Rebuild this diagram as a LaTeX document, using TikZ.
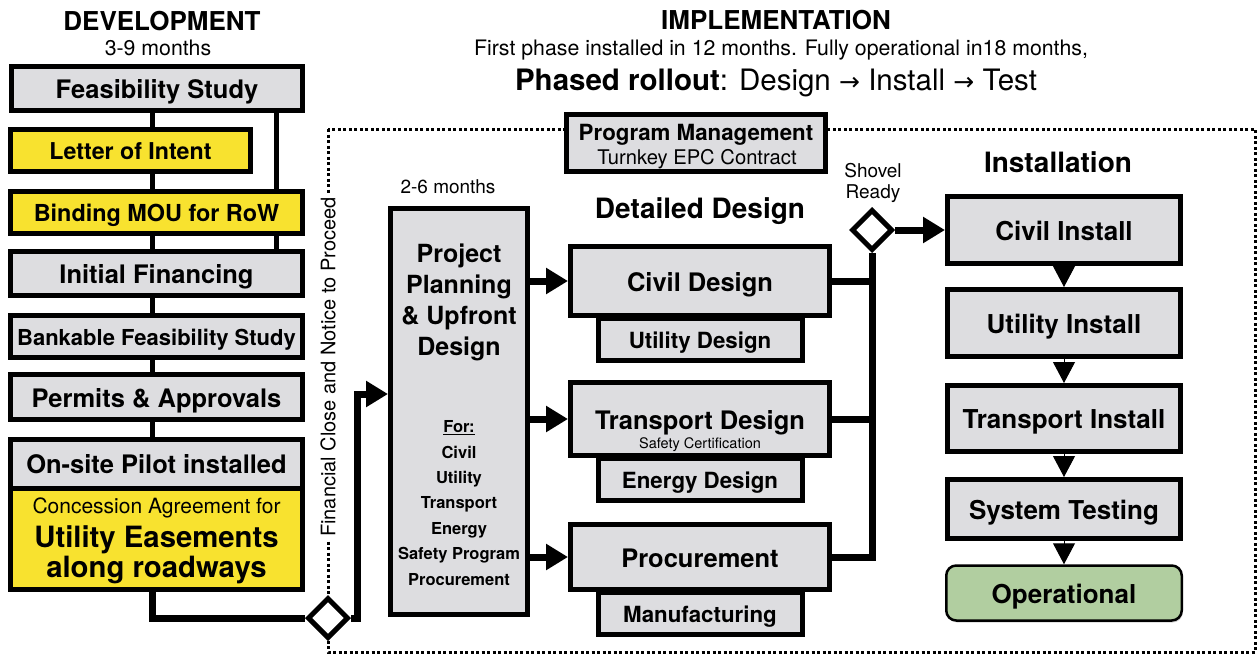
\documentclass[tikz,border=0pt]{standalone}
\usepackage{fontspec}
\setmainfont{TeX Gyre Heros}
\newfontfamily\arrowfont{DejaVu Sans}
\usetikzlibrary{arrows.meta,shapes.geometric,shadows,backgrounds}
\definecolor{boxgray}{RGB}{221,221,224}
\definecolor{boxyellow}{RGB}{248,226,47}
\definecolor{boxgreen}{RGB}{177,206,160}
\newcommand\fsz[2]{\fontsize{#1}{#2}\selectfont}
\tikzset{
  box/.style={draw=black, line width=5pt, fill=boxgray, inner sep=0pt, align=center},
  ybox/.style={box, fill=boxyellow},
  conn/.style={draw=black, line width=7pt},
  arr/.style={conn, -{Triangle[length=22pt,width=25pt]}},
  darr/.style={draw=black, line width=1pt, -{Triangle[length=21pt,width=22pt]}},
  gate/.style={diamond, draw=black, line width=5pt, fill=white, minimum width=41pt, minimum height=41pt, inner sep=0pt},
  frame/.style={draw=black, line width=3pt, dash pattern=on 3pt off 2.5pt},
  lbl/.style={inner sep=0pt, align=center},
  big/.style={font=\fsz{25.5}{30}\bfseries, text height=20.4pt, text depth=0pt},
  mid/.style={font=\fsz{22.3}{26}\bfseries, text height=17.8pt, text depth=0pt},
  inst/.style={box, font=\fsz{26}{30}\bfseries, text height=20.8pt, text depth=0pt, minimum width=233pt},
}
\begin{document}
\begin{tikzpicture}[x=1pt,y=-1pt]
\useasboundingbox (0,0) rectangle (1259,654);

% headers
\node[lbl, font=\fsz{26}{30}\bfseries, anchor=base] (devh) at (162,30.5) {DEVELOPMENT};
\node[lbl, font=\fsz{21.3}{25}, anchor=base] (devt) at (158,55) {3-9 months};
\node[lbl, font=\fsz{26}{30}\bfseries, anchor=base] (imph) at (776,29) {IMPLEMENTATION};
\node[lbl, font=\fsz{21.3}{25}, anchor=base] (impt) at (781,55.5) {First phase installed in 12 months. Fully operational in18 months,};
\node[lbl, font=\fsz{29.5}{33}, anchor=base] (roll) at (776,90) {\textbf{Phased rollout}: Design {\arrowfont\fsz{25}{29}→} Install {\arrowfont\fsz{25}{29}→} Test};

% development column
\node[box, big, minimum width=291pt, minimum height=44pt] (feas) at (157,88.5) {Feasibility Study};
\node[ybox, font=\fsz{23.2}{27}\bfseries, text height=18.6pt, text depth=0pt, minimum width=240pt, minimum height=42pt] (loi) at (130.5,150.5) {Letter of Intent};
\node[ybox, font=\fsz{23.4}{27}\bfseries, text height=18.7pt, text depth=0pt, minimum width=292pt, minimum height=42pt] (mou) at (156.5,212.5) {Binding MOU for RoW};
\node[box, big, minimum width=292pt, minimum height=44pt] (fin) at (156.5,273.5) {Initial Financing};
\node[box, font=\fsz{22}{26}\bfseries, text height=17.6pt, text depth=0pt, minimum width=292pt, minimum height=42pt] (bank) at (156.5,336.5) {Bankable Feasibility Study};
\node[box, big, minimum width=292pt, minimum height=45pt] (perm) at (156.5,397) {Permits \& Approvals};
\node[box, big, minimum width=292pt, minimum height=48.5pt] (pilot) at (156.5,463.75) {On-site Pilot installed};
\node[ybox, minimum width=292pt, minimum height=101.5pt] (conc) at (156.5,538.75) {};
\node[lbl, font=\fsz{21}{25}, anchor=base] (ct1) at (156.5,513) {Concession Agreement for};
\node[lbl, font=\fsz{29.3}{33}\bfseries, anchor=base] (ct2) at (156.5,547) {Utility Easements};
\node[lbl, font=\fsz{29.3}{33}\bfseries, anchor=base] (ct3) at (156.5,577) {along roadways};

% gate and financial close
\node[gate] (d1) at (328,618) {};
\node[lbl, rotate=90, fill=white, inner sep=3pt, font=\fsz{20}{24}] (fc) at (328,367) {Financial Close and Notice to Proceed};

% program management
\node[box, minimum width=259pt, minimum height=57pt] (pm) at (696,143) {};
\node[lbl, font=\fsz{22.3}{26}\bfseries, anchor=base] (pmt) at (696,140) {Program Management};
\node[lbl, font=\fsz{20.2}{24}, anchor=base] (pms) at (697,164) {Turnkey EPC Contract};

% project planning
\node[lbl, font=\fsz{19}{23}, anchor=base] (m26) at (448,193) {2-6 months};
\node[box, minimum width=137pt, minimum height=406pt] (proj) at (459,411.5) {};
\node[lbl, font=\fsz{25}{31}\bfseries] (ptitle) at (459,302) {Project\\Planning\\\& Upfront\\Design};
\node[lbl, font=\fsz{16.5}{25.4}\bfseries] (plist) at (459,503) {\underline{For:}\\Civil\\Utility\\Transport\\Energy\\Safety Program\\Procurement};

% detailed design
\node[lbl, font=\fsz{28}{32}\bfseries, anchor=base] (ddt) at (700,218) {Detailed Design};
\node[box, mid, minimum width=204pt, minimum height=42.5pt] (ud) at (700,339.25) {Utility Design};
\node[box, big, minimum width=259pt, minimum height=69pt] (cd) at (700,281) {Civil Design};
\node[box, mid, minimum width=204pt, minimum height=42.5pt] (ed) at (700,479.25) {Energy Design};
\node[box, big, minimum width=259pt, minimum height=73pt] (td) at (700,419) {Transport Design};
\node[lbl, font=\fsz{14.5}{17}] (tds) at (700,444.5) {Safety Certification};
\node[box, mid, minimum width=204pt, minimum height=42.5pt] (mf) at (700,613.25) {Manufacturing};
\node[box, big, minimum width=259pt, minimum height=65pt] (pr) at (700,557) {Procurement};

% shovel ready
\node[gate] (sr) at (872,230) {};
\node[lbl, font=\fsz{19}{21.5}] (srt) at (873,183) {Shovel\\Ready};

% installation
\node[lbl, font=\fsz{28}{32}\bfseries, anchor=base] (instt) at (1058,172) {Installation};
\node[inst, minimum height=67pt] (ci) at (1064,230) {Civil Install};
\node[inst, minimum height=67pt] (ui) at (1064,323) {Utility Install};
\node[inst, minimum height=66pt] (ti) at (1064,418.5) {Transport Install};
\node[inst, minimum height=59pt] (st) at (1064,509) {System Testing};
\node[draw=black, line width=2.5pt, fill=boxgreen, rounded corners=10pt, inner sep=0pt,
      minimum width=235.5pt, minimum height=55pt, font=\fsz{26}{30}\bfseries, text height=20.8pt, text depth=0pt,
      drop shadow={opacity=0.35, shadow xshift=1pt, shadow yshift=-2pt}] (op) at (1064,593) {Operational};

\coordinate (vx) at (152.5,0);
\coordinate (vx2) at (276,0);
\coordinate (j1) at (357,394);

\begin{scope}[on background layer]
\draw[frame] (328,129) rectangle (1255,652);
\draw[conn, line width=5pt] (feas.south -| vx) -- (pilot.north -| vx);
\draw[conn, line width=5pt] (feas.south -| vx2) -- (fin.north -| vx2);
\draw[conn] (conc.south -| vx) |- (d1.west);
\draw[arr] (d1.east) -| (j1) -- (j1 -| proj.west);
\draw[arr] (proj.east |- cd) -- (cd.west);
\draw[arr] (proj.east |- td) -- (td.west);
\draw[arr] (proj.east |- pr) -- (pr.west);
\draw[conn] (cd.east) -- (cd.east -| sr.south);
\draw[conn] (td.east) -- (td.east -| sr.south);
\draw[conn] (pr.east) -| (sr.south);
\draw[arr] (sr.east) -- (ci.west);
\draw[darr] (ci.south) -- (ui.north);
\draw[darr] (ui.south) -- (ti.north);
\draw[darr] (ti.south) -- (st.north);
\draw[darr] (st.south) -- (op.north);
\end{scope}
\end{tikzpicture}
\end{document}
